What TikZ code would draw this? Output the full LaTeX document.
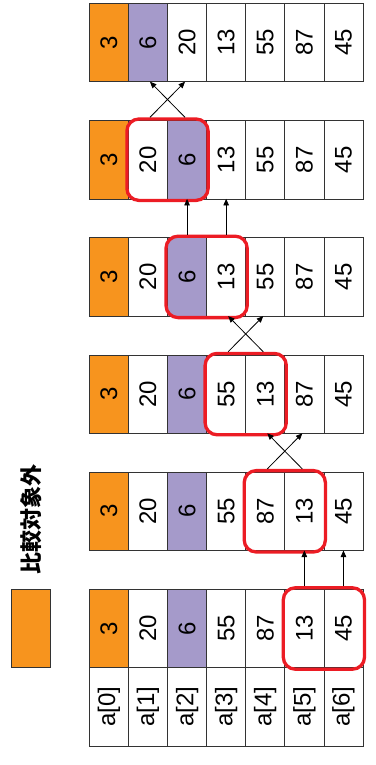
\documentclass[tikz,border=0pt]{standalone}
\usepackage{fontspec}
\setmainfont{Liberation Sans}
\newfontfamily\cjkfont{Noto Sans CJK JP}
\usetikzlibrary{fit,arrows.meta}
\definecolor{orangeC}{HTML}{F7941E}
\definecolor{purpleC}{HTML}{A59ACA}
\definecolor{redC}{HTML}{EC1C24}
\definecolor{lineC}{HTML}{333333}
\newcommand{\rottext}[1]{\rotatebox{90}{#1}}
\begin{document}
\begin{tikzpicture}[x=1pt,y=-1pt,
  cell/.style={draw=lineC, line width=0.8pt, minimum width=39.1pt, minimum height=78.4pt,
    inner sep=0pt, outer sep=0pt, font=\fontsize{24}{28}\selectfont},
  redbox/.style={draw=redC, line width=3.3pt, rounded corners=12pt, inner sep=1.5pt},
  arr/.style={draw=black, line width=0.8pt, -{Triangle[length=6.5pt,width=5.5pt]}}]
\useasboundingbox (0,0) rectangle (375,765);

% arrays of values
\foreach \k/\vals/\pp in {0/{3,20,6,55,87,13,45}/2,
                          1/{3,20,6,55,87,13,45}/2,
                          2/{3,20,6,55,13,87,45}/2,
                          3/{3,20,6,13,55,87,45}/2,
                          4/{3,20,6,13,55,87,45}/2,
                          5/{3,6,20,13,55,87,45}/1}{
  \foreach \v [count=\i from 0] in \vals {
    \ifnum\i=0 \def\fc{orangeC}\else\ifnum\i=\pp\relax \def\fc{purpleC}\else\def\fc{white}\fi\fi
    \node[cell, fill=\fc] (c\k\i) at ({108.85+39.1*\i},{628.5-117.2*\k}) {\rottext{\v}};
  }
}
% index row
\foreach \i in {0,...,6}{
  \node[cell] (i\i) at ({108.85+39.1*\i},706.9) {\rottext{a[\i]}};
}

% red comparison frames
\node[redbox, fit=(c05)(c06)] (r0) {};
\node[redbox, fit=(c14)(c15)] (r1) {};
\node[redbox, fit=(c23)(c24)] (r2) {};
\node[redbox, fit=(c32)(c33)] (r3) {};
\node[redbox, fit=(c41)(c42)] (r4) {};

% arrows
\draw[arr] (r0.north -| c05) -- (c15.south);
\draw[arr] (r0.north -| c06) -- (c16.south);

\draw[arr] ([xshift=2pt]r1.north -| c14) -- ([xshift=-2pt]c25.south);
\draw[arr] ([xshift=-2pt]r1.north -| c15) -- ([xshift=2pt]c24.south);

\draw[arr] ([xshift=2pt]r2.north -| c23) -- ([xshift=-2pt]c34.south);
\draw[arr] ([xshift=-2pt]r2.north -| c24) -- ([xshift=2pt]c33.south);

\draw[arr] (r3.north -| c32) -- (c42.south);
\draw[arr] (r3.north -| c33) -- (c43.south);

\draw[arr] ([xshift=2pt]r4.north -| c41) -- ([xshift=-2pt]c52.south);
\draw[arr] ([xshift=-2pt]r4.north -| c42) -- ([xshift=2pt]c51.south);

% legend
\node[draw=lineC, line width=0.8pt, fill=orangeC, minimum width=39pt, minimum height=78.4pt,
  inner sep=0pt] (leg) at (30.8,628.5) {};
\node[inner sep=0pt] (legtext) at (31,519) {\rottext{\cjkfont\bfseries\fontsize{22}{22}\selectfont 比較対象外}};
\end{tikzpicture}
\end{document}
